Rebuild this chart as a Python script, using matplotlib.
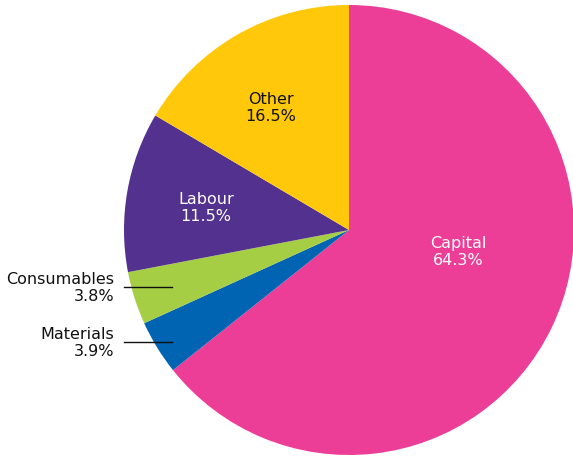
import matplotlib
matplotlib.use("Agg")
import matplotlib.pyplot as plt

categories = ["Capital", "Materials", "Consumables", "Labour", "Other"]
shares = [64.3, 3.9, 3.8, 11.5, 16.5]
colors = ["#ED3E97", "#0064B3", "#A6CE45", "#53318E", "#FFC80A"]

W, H = 573, 457
cx, cy, r = 349, 230, 225

fig = plt.figure(figsize=(W / 100, H / 100), dpi=100)
ax = fig.add_axes([(cx - r) / W, (H - cy - r) / H, 2 * r / W, 2 * r / H])
ax.pie(shares, colors=colors, startangle=90, counterclock=False, radius=1,
       wedgeprops=dict(linewidth=0))
ax.set_xlim(-1, 1)
ax.set_ylim(-1, 1)
ax.set_aspect("equal")
ax.axis("off")


def d(px, py):
    return (px - cx) / r, (cy - py) / r


fs = 11.5
labels = {c: f"{c}\n{v:.1f}%" for c, v in zip(categories, shares)}

# labels placed inside the larger slices
inside = {"Capital": ((458, 252), "white"),
          "Other": ((271, 108), "#111111"),
          "Labour": ((206, 208), "white")}
for name, ((px, py), col) in inside.items():
    x, y = d(px, py)
    ax.text(x, y, labels[name], ha="center", va="center", color=col,
            fontsize=fs, linespacing=1.15, clip_on=False)

# small slices labelled outside with leader lines
outside = {"Consumables": (288, 287), "Materials": (343, 342)}
for name, (ty, ly) in outside.items():
    x, y = d(114, ty)
    ax.text(x, y, labels[name], ha="right", va="center", color="#111111",
            fontsize=fs, linespacing=1.15, clip_on=False)
    x0, y0 = d(124, ly)
    x1, y1 = d(172, ly)
    ax.plot([x0, x1], [y0, y1], color="#111111", lw=1, clip_on=False)

fig.savefig("out.png", dpi=100)
